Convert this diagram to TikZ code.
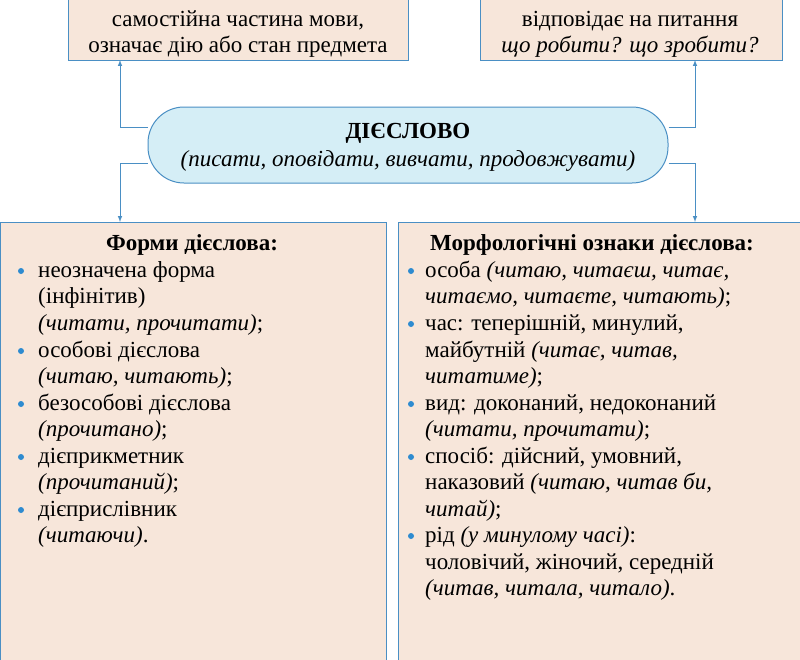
\documentclass[tikz,border=0pt]{standalone}
\usepackage{fontspec}
\setmainfont{Liberation Serif}
\newfontfamily\ser{Liberation Serif}
\definecolor{peach}{HTML}{F7E6DA}
\definecolor{cyanf}{HTML}{D5EEF6}
\definecolor{bl}{HTML}{4A8FC4}
\definecolor{bull}{HTML}{2E8BD0}
\tikzset{box/.style={draw=bl,line width=1pt,fill=peach},
 ln/.style={anchor=base west,inner sep=0pt,font=\ser\fontsize{23}{27}\selectfont},
 ttl/.style={anchor=base,inner sep=0pt,font=\ser\fontsize{23}{27}\selectfont\bfseries},
 dot/.style={circle,fill=bull,inner sep=0pt,minimum size=6pt},
 con/.style={draw=bl,line width=1pt,-latex}}
\begin{document}
\begin{tikzpicture}[x=1pt,y=-1pt]
\useasboundingbox (0,0) rectangle (800,659);
\fill[white] (0,0) rectangle (800,659);
\draw[box] (68,-2) rectangle (408,60); \coordinate (tl) at (120,60);
\draw[box] (480,-2) rectangle (782,60); \coordinate (tr) at (695,60);
\draw[box] (0,222) rectangle (386,662); \coordinate (bl1) at (120,222);
\draw[box] (398,222) rectangle (802,662); \coordinate (br) at (695,222);
\node[draw=bl,line width=1pt,fill=cyanf,rounded corners=36pt,minimum width=520pt,minimum height=76pt] (p) at (408,145) {};
\node[ln,anchor=base] (a1) at (238,26) {самостійна частина мови,};
\node[ln,anchor=base] (a2) at (238,52) {означає дію або стан предмета};
\node[ln,anchor=base] (b1) at (630,26) {відповідає на питання};
\node[ln,anchor=base] (b2) at (630,52) {\itshape що робити? що зробити?};
\node[ttl] (c1) at (408,138) {ДІЄСЛОВО};
\node[ln,anchor=base] (c2) at (408,166) {\itshape (писати, оповідати, вивчати, продовжувати)};
\draw[con] ([yshift=18pt]p.west) -| (tl);
\draw[con] ([yshift=-18pt]p.west) -| (bl1);
\draw[con] ([yshift=18pt]p.east) -| (tr);
\draw[con] ([yshift=-18pt]p.east) -| (br);
\node[ttl] (lt) at (192,250) {Форми дієслова:};
\foreach \y/\t/\d [count=\i] in {277/{неозначена форма}/1,303/{(інфінітив)}/0,330/{\itshape (читати, прочитати)\upshape;}/0,357/{особові дієслова}/1,383/{\itshape (читаю, читають)\upshape;}/0,410/{безособові дієслова}/1,436/{\itshape (прочитано)\upshape;}/0,463/{дієприкметник}/1,489/{\itshape (прочитаний)\upshape;}/0,516/{дієприслівник}/1,542/{\itshape (читаючи)\upshape.}/0}{
 \node[ln] (l\i) at (38,\y) {\t};
 \ifnum\d=1 \node[dot] (ld\i) at (21,\y-6) {};\fi}
\node[ttl] (rt) at (592,250) {Морфологічні ознаки дієслова:};
\foreach \y/\t/\d [count=\i] in {277/{особа \itshape (читаю, читаєш, читає,}/1,303/{\itshape читаємо, читаєте, читають)\upshape;}/0,330/{час: теперішній, минулий,}/1,357/{майбутній \itshape (читає, читав,}/0,383/{\itshape читатиме)\upshape;}/0,410/{вид: доконаний, недоконаний}/1,436/{\itshape (читати, прочитати)\upshape;}/0,463/{спосіб: дійсний, умовний,}/1,489/{наказовий \itshape (читаю, читав би,}/0,516/{\itshape читай)\upshape;}/0,542/{рід \itshape (у минулому часі)\upshape:}/1,569/{чоловічий, жіночий, середній}/0,595/{\itshape (читав, читала, читало)\upshape.}/0}{
 \node[ln] (r\i) at (425,\y) {\t};
 \ifnum\d=1 \node[dot] (rd\i) at (411,\y-6) {};\fi}
\end{tikzpicture}
\end{document}
